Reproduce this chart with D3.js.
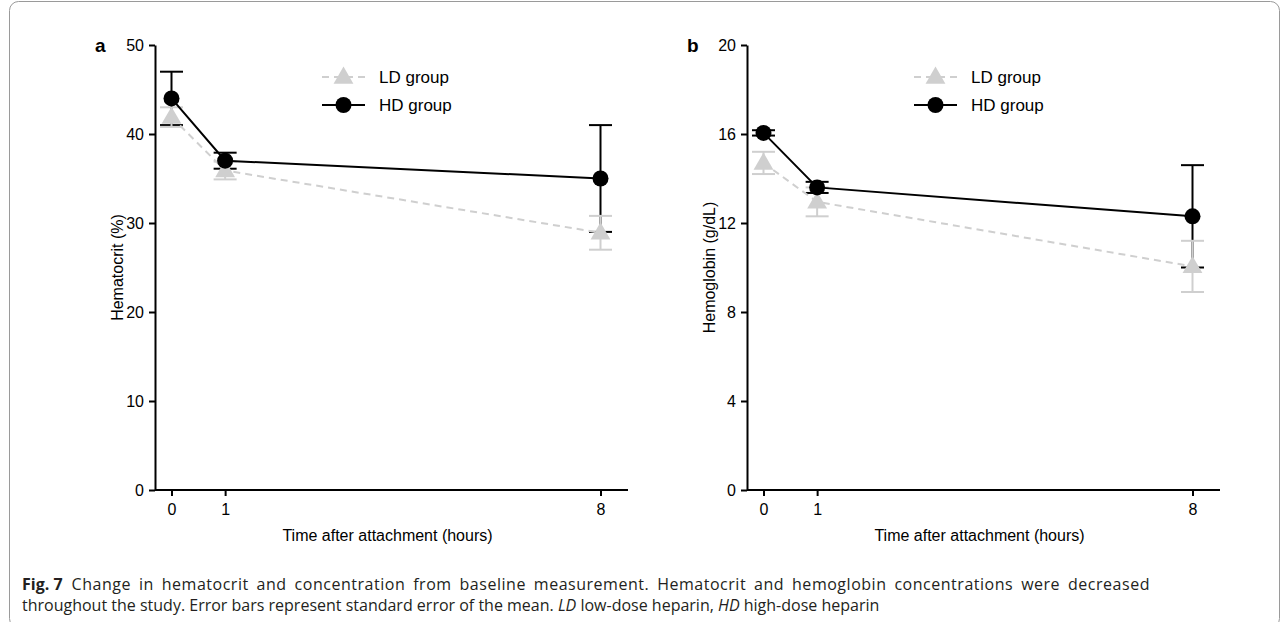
<!DOCTYPE html>
<html>
<head>
<meta charset="utf-8">
<script src="https://cdn.jsdelivr.net/npm/d3@7"></script>
<style>
  body { margin: 0; background: #ffffff; }
  svg { display: block; }
  .axis text { font-family: "Liberation Sans", Arial, sans-serif; font-size: 16px; fill: #000; }
  .axis path, .axis line { stroke: #000; stroke-width: 2px; }
</style>
</head>
<body>
<div id="chart"></div>
<script>

var hours = [0, 1, 8];
var xTicks = [0, 1, 8];

var hctLD = [41.9, 35.9, 28.9];
var hctLDse = [1.1, 1.0, 1.9];
var hctHD = [44, 37, 35];
var hctHDse = [3, 0.9, 6];
var hctTicks = [0, 10, 20, 30, 40, 50];

var hbLD = [14.7, 12.95, 10.05];
var hbLDse = [0.5, 0.65, 1.15];
var hbHD = [16.05, 13.6, 12.3];
var hbHDse = [0.12, 0.25, 2.3];
var hbTicks = [0, 4, 8, 12, 16, 20];

var legendNames = ["LD group", "HD group"];

var W = 1282, H = 622;
var svg = d3.select("#chart").append("svg")
  .attr("width", W)
  .attr("height", H);

// frame
svg.append("rect")
  .attr("x", 9.5).attr("y", 1.5)
  .attr("width", 1270).attr("height", 626)
  .attr("rx", 9).attr("ry", 9)
  .attr("fill", "none")
  .attr("stroke", "#9a9a9a")
  .attr("stroke-width", 1);

function drawPanel(opt) {
  var g = svg.append("g");
  var x0 = opt.left, x1 = opt.left + 473;
  var yTop = 45, yBot = 490;

  var x = d3.scaleLinear().domain([0, 8]).range([x0 + 16.5, x0 + 445.5]);
  var y = d3.scaleLinear().domain([0, opt.ymax]).range([yBot, yTop]);

  var xAxis = g.append("g")
    .attr("class", "axis")
    .attr("transform", "translate(0," + yBot + ")")
    .call(d3.axisBottom(x).tickValues(xTicks).tickSize(6).tickPadding(8).tickSizeOuter(0));
  xAxis.select(".domain").attr("d", "M" + x0 + ",0H" + x1);

  g.append("g")
    .attr("class", "axis")
    .attr("transform", "translate(" + x0 + ",0)")
    .call(d3.axisLeft(y).tickValues(opt.ticks).tickSize(6).tickPadding(5).tickSizeOuter(0));

  g.append("text")
    .attr("x", (x0 + x1) / 2 - 4)
    .attr("y", 541)
    .attr("text-anchor", "middle")
    .style("font-family", "Liberation Sans, Arial, sans-serif")
    .style("font-size", "16px")
    .text("Time after attachment (hours)");

  g.append("text")
    .attr("transform", "translate(" + (x0 - 32) + "," + ((yTop + yBot) / 2) + ") rotate(-90)")
    .attr("text-anchor", "middle")
    .style("font-family", "Liberation Sans, Arial, sans-serif")
    .style("font-size", "16px")
    .text(opt.ylabel);

  g.append("text")
    .attr("x", x0 - 60)
    .attr("y", 52)
    .style("font-family", "Liberation Sans, Arial, sans-serif")
    .style("font-size", "19px")
    .style("font-weight", "bold")
    .text(opt.letter);

  var ld = hours.map(function(h, i) { return { h: h, v: opt.ld[i], e: opt.ldse[i] }; });
  var hd = hours.map(function(h, i) { return { h: h, v: opt.hd[i], e: opt.hdse[i] }; });

  var grey = "#cfcfcf";
  var capW = 11.5;

  function errBars(data, color) {
    var eg = g.append("g");
    data.forEach(function(d) {
      var cx = x(d.h);
      eg.append("line")
        .attr("x1", cx).attr("x2", cx)
        .attr("y1", y(d.v - d.e)).attr("y2", y(d.v + d.e))
        .attr("stroke", color).attr("stroke-width", 2);
      [d.v - d.e, d.v + d.e].forEach(function(v) {
        eg.append("line")
          .attr("x1", cx - capW).attr("x2", cx + capW)
          .attr("y1", y(v)).attr("y2", y(v))
          .attr("stroke", color).attr("stroke-width", 2);
      });
    });
  }

  var line = d3.line()
    .x(function(d) { return x(d.h); })
    .y(function(d) { return y(d.v); });

  errBars(hd, "#000");
  errBars(ld, grey);

  g.append("path")
    .datum(ld)
    .attr("d", line)
    .attr("fill", "none")
    .attr("stroke", grey)
    .attr("stroke-width", 2)
    .attr("stroke-dasharray", "7,5");

  var tri = d3.symbol().type(d3.symbolTriangle).size(170);
  g.selectAll(".ld-pt").data(ld).enter().append("path")
    .attr("class", "ld-pt")
    .attr("d", tri)
    .attr("transform", function(d) { return "translate(" + x(d.h) + "," + (y(d.v) + 1) + ")"; })
    .attr("fill", grey);

  g.append("path")
    .datum(hd)
    .attr("d", line)
    .attr("fill", "none")
    .attr("stroke", "#000")
    .attr("stroke-width", 2);

  g.selectAll(".hd-pt").data(hd).enter().append("circle")
    .attr("class", "hd-pt")
    .attr("cx", function(d) { return x(d.h); })
    .attr("cy", function(d) { return y(d.v); })
    .attr("r", 8)
    .attr("fill", "#000");

  // legend
  var lx = x0 + 167, lw = 43;
  var lg = g.append("g");
  legendNames.forEach(function(name, i) {
    var ly = 77 + i * 28;
    lg.append("line")
      .attr("x1", lx).attr("x2", lx + lw)
      .attr("y1", ly).attr("y2", ly)
      .attr("stroke", i === 0 ? grey : "#000")
      .attr("stroke-width", 2)
      .attr("stroke-dasharray", i === 0 ? "7,5" : null);
    if (i === 0) {
      lg.append("path")
        .attr("d", tri)
        .attr("transform", "translate(" + (lx + lw / 2) + "," + (ly + 1) + ")")
        .attr("fill", grey);
    } else {
      lg.append("circle")
        .attr("cx", lx + lw / 2).attr("cy", ly).attr("r", 8).attr("fill", "#000");
    }
    lg.append("text")
      .attr("x", lx + lw + 14)
      .attr("y", ly + 6)
      .style("font-family", "Liberation Sans, Arial, sans-serif")
      .style("font-size", "17px")
      .text(name);
  });
}

drawPanel({ left: 155, ymax: 50, ticks: hctTicks, ld: hctLD, ldse: hctLDse, hd: hctHD, hdse: hctHDse, ylabel: "Hematocrit (%)", letter: "a" });
drawPanel({ left: 747, ymax: 20, ticks: hbTicks, ld: hbLD, ldse: hbLDse, hd: hbHD, hdse: hbHDse, ylabel: "Hemoglobin (g/dL)", letter: "b" });

// caption
var cap = svg.append("g")
  .style("font-family", "Open Sans, Noto Sans, sans-serif")
  .style("font-size", "16px")
  .style("fill", "#231f20");

var c1 = cap.append("text").attr("x", 22).attr("y", 590);
c1.append("tspan").style("font-weight", "bold").text("Fig. 7");
var c1body = c1.append("tspan").attr("dx", 9)
  .text("Change in hematocrit and concentration from baseline measurement. Hematocrit and hemoglobin concentrations were decreased");

// first line is justified to the column width
var natural = c1.node().getComputedTextLength() + 9;
var nChars = c1body.text().length;
var spaces = c1body.text().split(" ").length - 1;
var extra = 1128 - natural;
c1body.style("word-spacing", (extra * 0.4 / spaces) + "px")
  .style("letter-spacing", (extra * 0.6 / nChars) + "px");

var c2 = cap.append("text").attr("x", 22).attr("y", 611);
c2.append("tspan").text("throughout the study. Error bars represent standard error of the mean. ");
c2.append("tspan").style("font-style", "italic").text("LD");
c2.append("tspan").text(" low-dose heparin, ");
c2.append("tspan").style("font-style", "italic").text("HD");
c2.append("tspan").text(" high-dose heparin");

</script>
</body>
</html>
